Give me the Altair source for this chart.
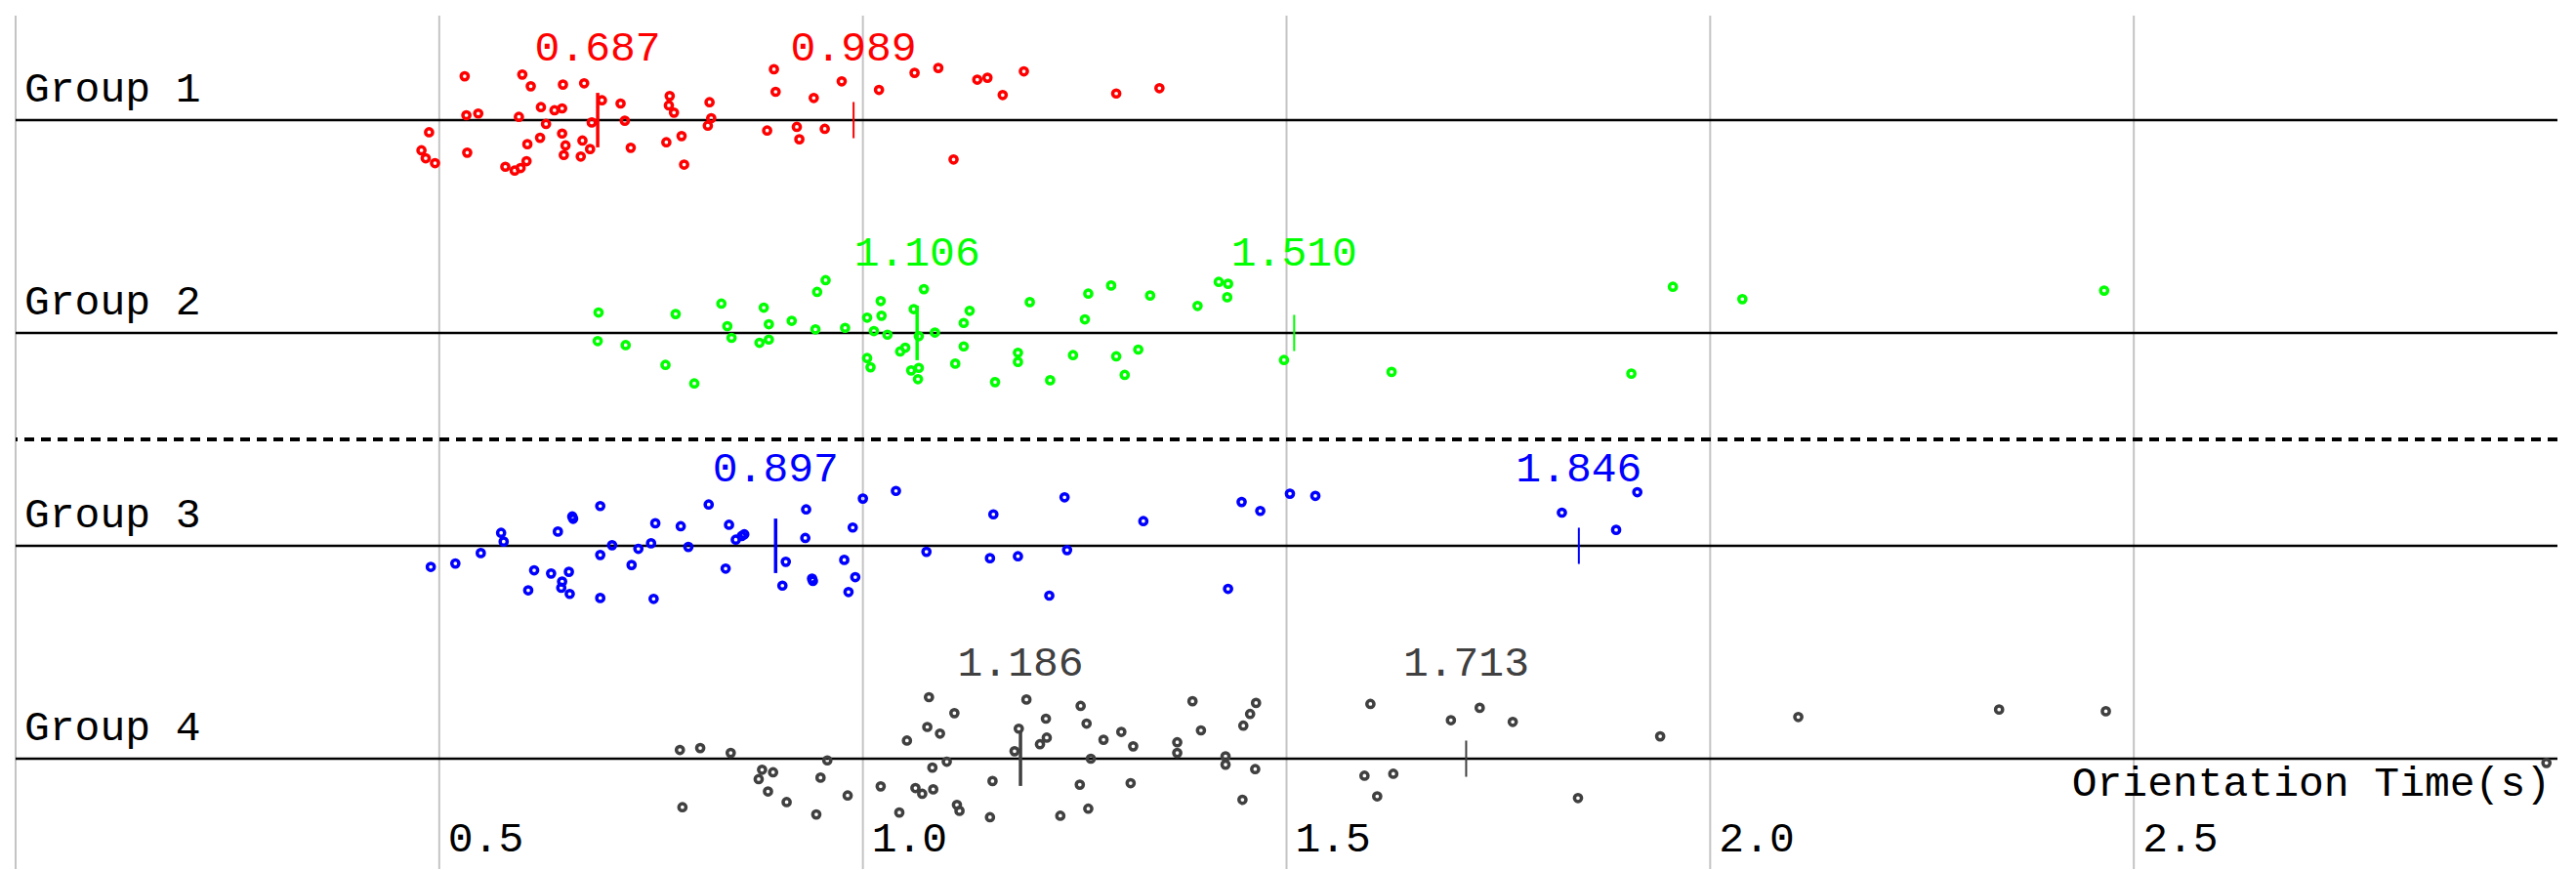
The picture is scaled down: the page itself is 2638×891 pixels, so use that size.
import altair as alt
import pandas as pd

# ---------------- data ----------------
groups = ["Group 1", "Group 2", "Group 3", "Group 4"]
point_colors = ["#ff0000", "#00ff00", "#0000ff", "#404040"]
label_colors = ["#ff0000", "#00ff00", "#0000ff", "#555555"]

g1_x = [0.530, 0.598, 0.608, 0.646, 0.671, 0.692, 0.714, 0.772, 0.771, 0.777,
        0.819, 0.821, 0.817, 0.895, 0.897, 0.942, 0.975, 1.019, 1.061, 1.089,
        1.135, 1.147, 1.165, 1.190, 1.299, 1.350, 0.532, 0.546, 0.594, 0.620,
        0.636, 0.645, 0.626, 0.680, 0.719, 0.488, 0.479, 0.484, 0.495, 0.533,
        0.578, 0.589, 0.596, 0.603, 0.604, 0.619, 0.645, 0.649, 0.647, 0.669,
        0.667, 0.678, 0.726, 0.768, 0.786, 0.789, 0.887, 0.922, 0.925, 0.955,
        1.107]
g1_jitter = [-0.206, -0.214, -0.159, -0.167, -0.173, -0.093, -0.078, -0.113, -0.069, -0.035,
             -0.084, -0.009, 0.026, -0.239, -0.133, -0.104, -0.182, -0.142, -0.222, -0.245,
             -0.190, -0.199, -0.118, -0.229, -0.125, -0.150, -0.023, -0.031, -0.015, -0.061,
             -0.046, -0.055, 0.018, 0.011, 0.003, 0.057, 0.142, 0.179, 0.202, 0.153,
             0.219, 0.237, 0.225, 0.193, 0.113, 0.083, 0.063, 0.119, 0.164, 0.096,
             0.171, 0.136, 0.130, 0.104, 0.075, 0.209, 0.049, 0.032, 0.090, 0.041,
             0.185]

g2_x = [0.688, 0.687, 0.720, 0.779, 0.767, 0.801, 0.833, 0.840, 0.845, 0.883,
        0.889, 0.889, 0.878, 0.916, 0.944, 0.946, 0.956, 0.979, 1.005, 1.013,
        1.021, 1.022, 1.029, 1.005, 1.009, 1.044, 1.050, 1.060, 1.072, 1.066,
        1.057, 1.066, 1.065, 1.085, 1.109, 1.119, 1.119, 1.126, 1.156, 1.183,
        1.183, 1.197, 1.221, 1.248, 1.262, 1.266, 1.293, 1.299, 1.309, 1.325,
        1.339, 1.395, 1.420, 1.431, 1.430, 1.497, 1.624, 1.907, 1.956, 2.038,
        2.465]
g2_jitter = [-0.096, 0.038, 0.057, -0.089, 0.150, 0.237, -0.138, -0.032, 0.023, -0.119,
             -0.041, 0.031, 0.046, -0.057, -0.017, -0.193, -0.248, -0.024, -0.072, -0.009,
             -0.150, -0.081, 0.008, 0.118, 0.161, 0.087, 0.069, -0.112, -0.206, 0.015,
             0.176, 0.164, 0.217, -0.002, 0.144, 0.063, -0.047, -0.104, 0.231, 0.093,
             0.136, -0.145, 0.222, 0.104, -0.064, -0.185, -0.223, 0.110, 0.197, 0.078,
             -0.176, -0.127, -0.240, -0.231, -0.168, 0.127, 0.183, 0.191, -0.217, -0.159,
             -0.199]

g3_x = [0.490, 0.519, 0.549, 0.573, 0.576, 0.612, 0.605, 0.632, 0.640, 0.645,
        0.644, 0.653, 0.654, 0.657, 0.658, 0.690, 0.690, 0.690, 0.704, 0.727,
        0.735, 0.750, 0.755, 0.753, 0.785, 0.794, 0.818, 0.838, 0.842, 0.850,
        0.857, 0.860, 0.909, 0.905, 0.933, 0.932, 0.940, 0.941, 0.978, 0.983,
        0.991, 0.988, 1.000, 1.039, 1.075, 1.150, 1.154, 1.183, 1.220, 1.238,
        1.241, 1.331, 1.431, 1.447, 1.469, 1.504, 1.534, 1.825, 1.889, 1.914]
g3_jitter = [0.099, 0.083, 0.034, -0.061, -0.020, 0.115, 0.209, 0.130, -0.067, 0.168,
             0.197, 0.122, 0.226, -0.138, -0.127, -0.187, 0.043, 0.245, -0.003, 0.090,
             0.014, -0.012, -0.106, 0.249, -0.092, 0.005, -0.194, 0.107, -0.099, -0.029,
             -0.046, -0.054, 0.075, 0.187, -0.171, -0.037, 0.154, 0.165, 0.066, 0.217,
             0.147, -0.086, -0.222, -0.258, 0.028, 0.058, -0.148, 0.049, 0.234, -0.228,
             0.020, -0.116, 0.202, -0.206, -0.164, -0.245, -0.235, -0.156, -0.075, -0.252]

g4_x = [0.784, 0.808, 0.787, 0.844, 0.881, 0.877, 0.894, 0.888, 0.910, 0.950,
        0.958, 0.945, 0.982, 1.021, 1.043, 1.052, 1.062, 1.070, 1.083, 1.082,
        1.076, 1.078, 1.091, 1.099, 1.108, 1.111, 1.114, 1.150, 1.153, 1.179,
        1.184, 1.193, 1.209, 1.217, 1.216, 1.233, 1.257, 1.264, 1.256, 1.266,
        1.269, 1.284, 1.305, 1.319, 1.316, 1.371, 1.371, 1.389, 1.399, 1.428,
        1.428, 1.449, 1.457, 1.464, 1.463, 1.448, 1.599, 1.592, 1.626, 1.607,
        1.694, 1.728, 1.767, 1.844, 1.941, 2.104, 2.341, 2.467, 2.987]
g4_jitter = [-0.041, -0.050, 0.228, -0.027, 0.052, 0.096, 0.064, 0.154, 0.204, 0.089,
             0.008, 0.262, 0.173, 0.130, 0.253, -0.085, 0.138, 0.165, 0.144, 0.042,
             -0.149, -0.289, -0.118, 0.014, -0.214, 0.217, 0.245, 0.275, 0.105, -0.035,
             -0.141, -0.278, -0.068, -0.099, -0.188, 0.268, -0.248, -0.165, 0.122, 0.235,
             0.000, -0.089, -0.126, -0.058, 0.115, -0.077, -0.027, -0.270, -0.133, -0.011,
             0.028, -0.155, -0.210, -0.262, 0.049, 0.193, -0.257, 0.080, 0.071, 0.177,
             -0.181, -0.239, -0.173, 0.185, -0.105, -0.196, -0.231, -0.223, 0.020]

first_marker = [0.687, 1.064, 0.897, 1.186]
first_label = ["0.687", "1.106", "0.897", "1.186"]
second_marker = [0.989, 1.509, 1.845, 1.712]
second_label = ["0.989", "1.510", "1.846", "1.713"]

grid_values = [0.0, 0.5, 1.0, 1.5, 2.0, 2.5]
tick_values = [0.5, 1.0, 1.5, 2.0, 2.5]
x_title = "Orientation Time(s)"
separator_row = 2.5

# ---------------- layout / style ----------------
W, H = 2603, 868          # plot area: page x 16..2619, page y 8..876
PX_PER_ROW = 218.0
Y_TOP = 1 - (123 - 8) / PX_PER_ROW
Y_BOT = Y_TOP + H / PX_PER_ROW
FONT = "Liberation Mono"
FS = 43
label_rise = [0.280, 0.317, 0.303, 0.390]   # label baseline above group line (rows)
half_thick = 0.128
half_thin = 0.085

# ---------------- tables ----------------
xs = [g1_x, g2_x, g3_x, g4_x]
js = [g1_jitter, g2_jitter, g3_jitter, g4_jitter]
rows = []
for i, g in enumerate(groups):
    for x, j in zip(xs[i], js[i]):
        rows.append({"group": g, "t": x, "row": i + 1 + j})
points = pd.DataFrame(rows)

gdf = pd.DataFrame({"group": groups, "row": [1, 2, 3, 4]})

mk = []
for i, g in enumerate(groups):
    mk.append({"group": g, "t": first_marker[i], "kind": "first", "label": first_label[i],
               "y1": i + 1 - half_thick, "y2": i + 1 + half_thick,
               "ly": i + 1 - label_rise[i]})
    mk.append({"group": g, "t": second_marker[i], "kind": "second", "label": second_label[i],
               "y1": i + 1 - half_thin, "y2": i + 1 + half_thin,
               "ly": i + 1 - label_rise[i]})
markers = pd.DataFrame(mk)

grid_df = pd.DataFrame({"t": grid_values})
tick_df = pd.DataFrame({"t": tick_values,
                        "lab": [f"{v:.1f}" for v in tick_values]})

# ---------------- scales ----------------
xscale = alt.Scale(domain=[0, 3.0], nice=False, zero=False)
yscale = alt.Scale(domain=[Y_TOP, Y_BOT], reverse=True, nice=False, zero=False)
pcol = alt.Color("group:N", scale=alt.Scale(domain=groups, range=point_colors), legend=None)
lcol = alt.Color("group:N", scale=alt.Scale(domain=groups, range=label_colors), legend=None)

X = alt.X("t:Q", scale=xscale, axis=None)

grid = alt.Chart(grid_df).mark_rule(color="#c4c4c4", strokeWidth=2).encode(
    x=X, y=alt.value(8), y2=alt.value(H + 14))

ticklabels = alt.Chart(tick_df).mark_text(
    font=FONT, fontSize=FS, align="left", baseline="alphabetic", dx=9,
    color="#000000").encode(
    x=X, y=alt.value(864), text="lab:N")

# group lines
glines = alt.Chart(gdf).mark_rule(color="#000000", strokeWidth=2.5).encode(
    y=alt.Y("row:Q", scale=yscale, axis=None))

sep = alt.Chart(pd.DataFrame({"row": [separator_row]})).mark_rule(
    color="#000000", strokeWidth=4, strokeDash=[10, 7]).encode(
    y=alt.Y("row:Q", scale=yscale, axis=None))

pts = alt.Chart(points).mark_point(shape="circle", filled=False, strokeWidth=3.5,
                                   size=52, opacity=1).encode(
    x=X, y=alt.Y("row:Q", scale=yscale, axis=None), color=pcol)

thick = alt.Chart(markers).transform_filter(alt.datum.kind == "first").mark_rule(
    strokeWidth=3.5).encode(
    x=X, y=alt.Y("y1:Q", scale=yscale, axis=None), y2="y2:Q", color=pcol)

thin = alt.Chart(markers).transform_filter(alt.datum.kind == "second").mark_rule(
    strokeWidth=2).encode(
    x=X, y=alt.Y("y1:Q", scale=yscale, axis=None), y2="y2:Q", color=pcol)

vlabels = alt.Chart(markers).mark_text(font=FONT, fontSize=FS, align="center",
                                       baseline="alphabetic").encode(
    x=X, y=alt.Y("ly:Q", scale=yscale, axis=None), text="label:N", color=lcol)

glabels = alt.Chart(gdf).mark_text(font=FONT, fontSize=FS, align="left",
                                   baseline="alphabetic", dy=-19, color="#000000").encode(
    x=alt.value(9), y=alt.Y("row:Q", scale=yscale, axis=None), text="group:N")

title = alt.Chart(pd.DataFrame({"txt": [x_title]})).mark_text(
    font=FONT, fontSize=FS, align="right", baseline="alphabetic", color="#000000").encode(
    x=alt.value(2596), y=alt.value(807), text="txt:N")

chart = alt.layer(grid, glines, sep, pts, thick, thin, vlabels, glabels, title,
                  ticklabels).properties(
    width=W, height=H,
    autosize=alt.AutoSizeParams(type="none"),
    padding={"left": 8, "top": 0, "right": 0, "bottom": 14},
    background="#ffffff",
).configure_view(stroke=None)

chart.save("out.html", embed_options={"renderer": "svg", "actions": False})
